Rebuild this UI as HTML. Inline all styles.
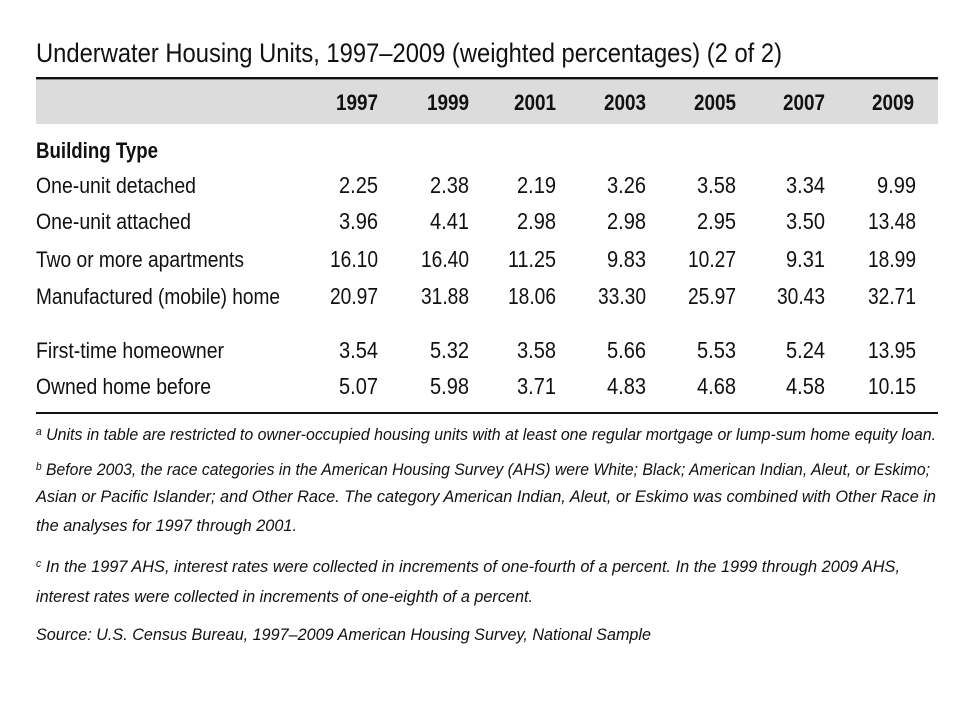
<!DOCTYPE html>
<html><head><meta charset="utf-8"><style>html,body{margin:0;padding:0;background:#fff}svg{display:block}</style></head>
<body>
<svg width="960" height="720" xmlns="http://www.w3.org/2000/svg" font-family="Liberation Sans, Arial, sans-serif" fill="#111">
<text x="36" y="62" font-size="27" textLength="746" lengthAdjust="spacingAndGlyphs">Underwater Housing Units, 1997–2009 (weighted percentages) (2 of 2)</text>
<rect x="36" y="77" width="902" height="2.5" fill="#111"/>
<rect x="36" y="80" width="902" height="44" fill="#dcdcdc"/>
<g font-size="22" font-weight="bold" text-anchor="end">
<text x="378" y="110" textLength="42" lengthAdjust="spacingAndGlyphs">1997</text>
<text x="469" y="110" textLength="42" lengthAdjust="spacingAndGlyphs">1999</text>
<text x="556" y="110" textLength="42" lengthAdjust="spacingAndGlyphs">2001</text>
<text x="646" y="110" textLength="42" lengthAdjust="spacingAndGlyphs">2003</text>
<text x="736" y="110" textLength="42" lengthAdjust="spacingAndGlyphs">2005</text>
<text x="825" y="110" textLength="42" lengthAdjust="spacingAndGlyphs">2007</text>
<text x="914" y="110" textLength="42" lengthAdjust="spacingAndGlyphs">2009</text>
</g>
<text x="36" y="158" font-size="22" font-weight="bold" textLength="122" lengthAdjust="spacingAndGlyphs">Building Type</text>
<g font-size="22">
<text x="36" y="193" textLength="160" lengthAdjust="spacingAndGlyphs">One-unit detached</text>
<text x="36" y="229" textLength="155" lengthAdjust="spacingAndGlyphs">One-unit attached</text>
<text x="36" y="267" textLength="208" lengthAdjust="spacingAndGlyphs">Two or more apartments</text>
<text x="36" y="304" textLength="244" lengthAdjust="spacingAndGlyphs">Manufactured (mobile) home</text>
<text x="36" y="358" textLength="188" lengthAdjust="spacingAndGlyphs">First-time homeowner</text>
<text x="36" y="394" textLength="175" lengthAdjust="spacingAndGlyphs">Owned home before</text>
</g>
<g font-size="23" text-anchor="end">
<g transform="translate(0,193)"><text x="378" textLength="39" lengthAdjust="spacingAndGlyphs">2.25</text><text x="469" textLength="39" lengthAdjust="spacingAndGlyphs">2.38</text><text x="556" textLength="39" lengthAdjust="spacingAndGlyphs">2.19</text><text x="646" textLength="39" lengthAdjust="spacingAndGlyphs">3.26</text><text x="736" textLength="39" lengthAdjust="spacingAndGlyphs">3.58</text><text x="825" textLength="39" lengthAdjust="spacingAndGlyphs">3.34</text><text x="916" textLength="39" lengthAdjust="spacingAndGlyphs">9.99</text></g>
<g transform="translate(0,229)"><text x="378" textLength="39" lengthAdjust="spacingAndGlyphs">3.96</text><text x="469" textLength="39" lengthAdjust="spacingAndGlyphs">4.41</text><text x="556" textLength="39" lengthAdjust="spacingAndGlyphs">2.98</text><text x="646" textLength="39" lengthAdjust="spacingAndGlyphs">2.98</text><text x="736" textLength="39" lengthAdjust="spacingAndGlyphs">2.95</text><text x="825" textLength="39" lengthAdjust="spacingAndGlyphs">3.50</text><text x="916" textLength="48" lengthAdjust="spacingAndGlyphs">13.48</text></g>
<g transform="translate(0,267)"><text x="378" textLength="48" lengthAdjust="spacingAndGlyphs">16.10</text><text x="469" textLength="48" lengthAdjust="spacingAndGlyphs">16.40</text><text x="556" textLength="48" lengthAdjust="spacingAndGlyphs">11.25</text><text x="646" textLength="39" lengthAdjust="spacingAndGlyphs">9.83</text><text x="736" textLength="48" lengthAdjust="spacingAndGlyphs">10.27</text><text x="825" textLength="39" lengthAdjust="spacingAndGlyphs">9.31</text><text x="916" textLength="48" lengthAdjust="spacingAndGlyphs">18.99</text></g>
<g transform="translate(0,304)"><text x="378" textLength="48" lengthAdjust="spacingAndGlyphs">20.97</text><text x="469" textLength="48" lengthAdjust="spacingAndGlyphs">31.88</text><text x="556" textLength="48" lengthAdjust="spacingAndGlyphs">18.06</text><text x="646" textLength="48" lengthAdjust="spacingAndGlyphs">33.30</text><text x="736" textLength="48" lengthAdjust="spacingAndGlyphs">25.97</text><text x="825" textLength="48" lengthAdjust="spacingAndGlyphs">30.43</text><text x="916" textLength="48" lengthAdjust="spacingAndGlyphs">32.71</text></g>
<g transform="translate(0,358)"><text x="378" textLength="39" lengthAdjust="spacingAndGlyphs">3.54</text><text x="469" textLength="39" lengthAdjust="spacingAndGlyphs">5.32</text><text x="556" textLength="39" lengthAdjust="spacingAndGlyphs">3.58</text><text x="646" textLength="39" lengthAdjust="spacingAndGlyphs">5.66</text><text x="736" textLength="39" lengthAdjust="spacingAndGlyphs">5.53</text><text x="825" textLength="39" lengthAdjust="spacingAndGlyphs">5.24</text><text x="916" textLength="48" lengthAdjust="spacingAndGlyphs">13.95</text></g>
<g transform="translate(0,394)"><text x="378" textLength="39" lengthAdjust="spacingAndGlyphs">5.07</text><text x="469" textLength="39" lengthAdjust="spacingAndGlyphs">5.98</text><text x="556" textLength="39" lengthAdjust="spacingAndGlyphs">3.71</text><text x="646" textLength="39" lengthAdjust="spacingAndGlyphs">4.83</text><text x="736" textLength="39" lengthAdjust="spacingAndGlyphs">4.68</text><text x="825" textLength="39" lengthAdjust="spacingAndGlyphs">4.58</text><text x="916" textLength="48" lengthAdjust="spacingAndGlyphs">10.15</text></g>
</g>
<rect x="36" y="412" width="902" height="2" fill="#111"/>
<g font-size="17" font-style="italic">
<text x="36" y="440" textLength="900" lengthAdjust="spacingAndGlyphs"><tspan font-size="11" dy="-5">a</tspan><tspan dy="5"> Units in table are restricted to owner-occupied housing units with at least one regular mortgage or lump-sum home equity loan.</tspan></text>
<text x="36" y="475" textLength="894" lengthAdjust="spacingAndGlyphs"><tspan font-size="11" dy="-5">b</tspan><tspan dy="5"> Before 2003, the race categories in the American Housing Survey (AHS) were White; Black; American Indian, Aleut, or Eskimo;</tspan></text>
<text x="36" y="502" textLength="900" lengthAdjust="spacingAndGlyphs">Asian or Pacific Islander; and Other Race. The category American Indian, Aleut, or Eskimo was combined with Other Race in</text>
<text x="36" y="531" textLength="261" lengthAdjust="spacingAndGlyphs">the analyses for 1997 through 2001.</text>
<text x="36" y="572" textLength="864" lengthAdjust="spacingAndGlyphs"><tspan font-size="11" dy="-5">c</tspan><tspan dy="5"> In the 1997 AHS, interest rates were collected in increments of one-fourth of a percent. In the 1999 through 2009 AHS,</tspan></text>
<text x="36" y="602" textLength="497" lengthAdjust="spacingAndGlyphs">interest rates were collected in increments of one-eighth of a percent.</text>
<text x="36" y="640" textLength="615" lengthAdjust="spacingAndGlyphs">Source: U.S. Census Bureau, 1997–2009 American Housing Survey, National Sample</text>
</g>
</svg>
</body></html>
